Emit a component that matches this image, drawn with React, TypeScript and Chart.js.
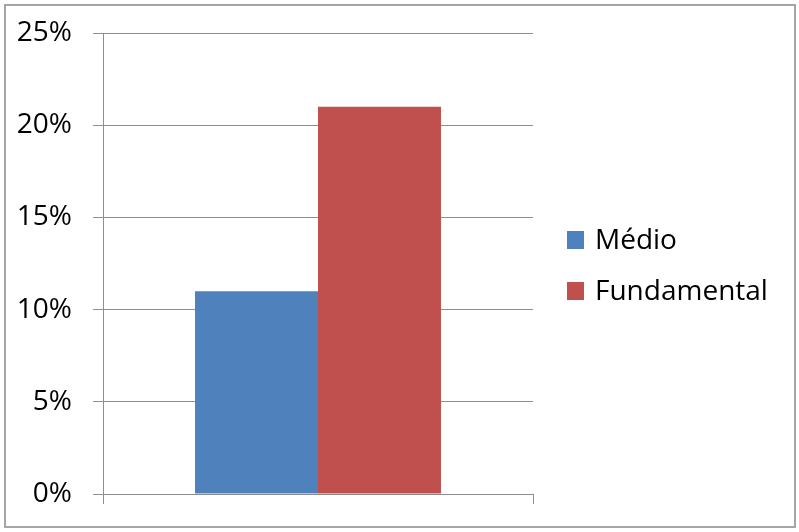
import React, { useEffect, useRef } from "react";
import { Chart, registerables } from "chart.js";

Chart.register(...registerables);

const categories: string[] = [""];
const seriesNames: string[] = ["Médio", "Fundamental"];
const medioValues: number[] = [11];
const fundamentalValues: number[] = [21];
const seriesColors: string[] = ["#4f81bd", "#c0504d"];
const yMin = 0;
const yMax = 25;
const yStep = 5;

const FONT = '"Open Sans", "Noto Sans", sans-serif';
const GRID = "#8e8e8e";

const frameAndLegend = {
  id: "frameAndLegend",
  beforeDraw(chart: any) {
    const ctx = chart.ctx;
    ctx.save();
    ctx.fillStyle = "#ffffff";
    ctx.fillRect(0, 0, chart.width, chart.height);
    ctx.strokeStyle = "#a6a6a6";
    ctx.lineWidth = 2;
    ctx.strokeRect(5, 5, 790, 522);
    ctx.restore();
  },
  afterDraw(chart: any) {
    const ctx = chart.ctx;
    ctx.save();
    const x0 = chart.chartArea.right + 34;
    chart.data.datasets.forEach((ds: any, i: number) => {
      const cy = 240 + i * 51;
      ctx.fillStyle = ds.backgroundColor;
      ctx.fillRect(x0, cy - 9, 17, 18);
      ctx.fillStyle = "#000000";
      ctx.font = `28px ${FONT}`;
      ctx.textBaseline = "middle";
      ctx.textAlign = "left";
      ctx.fillText(ds.label, x0 + 28, cy + 1);
    });
    ctx.restore();
  },
};

export default function App() {
  const ref = useRef<HTMLCanvasElement | null>(null);

  useEffect(() => {
    if (!ref.current) return;
    const chart = new Chart(ref.current, {
      type: "bar",
      data: {
        labels: categories,
        datasets: [
          {
            label: seriesNames[0],
            data: medioValues,
            backgroundColor: seriesColors[0],
            borderWidth: 0,
          },
          {
            label: seriesNames[1],
            data: fundamentalValues,
            backgroundColor: seriesColors[1],
            borderWidth: 0,
          },
        ],
      },
      options: {
        responsive: false,
        animation: false,
        devicePixelRatio: 1,
        layout: { padding: { left: 0, top: 33, right: 266, bottom: 28 } },
        datasets: {
          bar: { categoryPercentage: 0.572, barPercentage: 1 },
        },
        plugins: {
          legend: { display: false },
          tooltip: { enabled: false },
          title: { display: false },
        },
        scales: {
          x: {
            offset: true,
            grid: {
              offset: true,
              drawOnChartArea: false,
              drawTicks: true,
              tickLength: 10,
              color: GRID,
              lineWidth: 1,
            },
            border: { display: true, color: GRID, width: 1 },
            ticks: { display: false },
            afterFit: (scale: any) => {
              scale.height = 10;
              scale.paddingLeft = 0;
              scale.paddingRight = 0;
            },
          },
          y: {
            min: yMin,
            max: yMax,
            ticks: {
              stepSize: yStep,
              padding: 21,
              color: "#000000",
              font: { size: 28, family: FONT, lineHeight: 1 },
              callback: (v: any) => `${v}%`,
            },
            grid: {
              drawTicks: true,
              tickLength: 10,
              color: GRID,
              lineWidth: 1,
            },
            border: { display: true, color: GRID, width: 1 },
            afterFit: (scale: any) => {
              scale.width = 103;
              scale.paddingTop = 0;
              scale.paddingBottom = 0;
            },
          },
        },
      },
      plugins: [frameAndLegend],
    });
    return () => chart.destroy();
  }, []);

  return (
    <div style={{ position: "fixed", left: 0, top: 0, width: 799, height: 532, background: "#fff" }}>
      <canvas ref={ref} width={799} height={532} style={{ display: "block", width: 799, height: 532 }} />
    </div>
  );
}
